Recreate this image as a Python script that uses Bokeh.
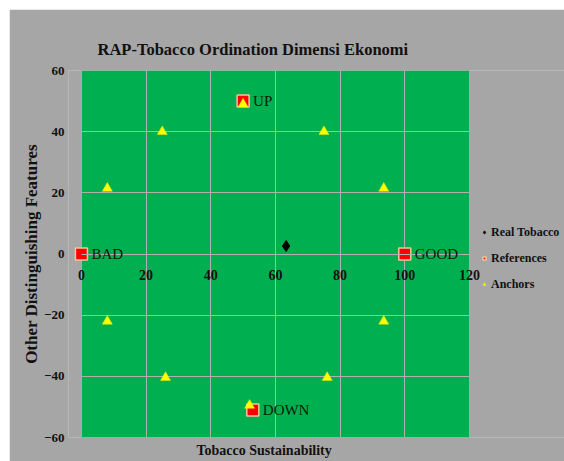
from bokeh.plotting import figure
from bokeh.models import (Range1d, Title, Legend, LegendItem, LabelSet, ColumnDataSource,
                          FixedTicker, BoxAnnotation, Grid)
from bokeh.core.properties import value
from bokeh.embed import file_html
from bokeh.resources import INLINE

# ---- data ----
title_text = "RAP-Tobacco Ordination Dimensi Ekonomi"
x_label = "Tobacco Sustainability"
y_label = "Other Distinguishing Features"
x_ticks = [0, 20, 40, 60, 80, 100, 120]
y_ticks = [-60, -40, -20, 0, 20, 40, 60]

real_x = [63.3]
real_y = [2.6]

ref_names = ["BAD", "GOOD", "UP", "DOWN"]
ref_x = [0, 100, 50, 53]
ref_y = [0, 0, 50, -51]

anchor_x = [8, 25, 50, 75, 93.5, 93.5, 76, 52, 26, 8]
anchor_y = [21.5, 40, 49, 40, 21.5, -22, -40.4, -49.5, -40.4, -22]

SERIF = "Liberation Serif"
GRAY = "#A6A6A6"
GREEN = "#00B050"
GRID = "#B0B0B0"

X0, X1 = x_ticks[0], x_ticks[-1]
Y0, Y1 = y_ticks[0], y_ticks[-1]

# the frame is wider than the green plot area so that the legend and the
# edge tick labels are not clipped
p = figure(width=555, height=452,
           x_range=Range1d(X0 - 4, X1 + 29.4), y_range=Range1d(Y0, Y1),
           output_backend="svg", toolbar_location=None,
           min_border_left=59, min_border_right=0,
           min_border_top=61, min_border_bottom=24,
           background_fill_color=GRAY, border_fill_color=GRAY,
           outline_line_color=None, title=title_text)
p.margin = (9, 0, 0, 9)
p.grid.visible = False

# green plot area, grid, masks
p.add_layout(BoxAnnotation(left=X0, right=X1, bottom=Y0, top=Y1, fill_color=GREEN,
                           fill_alpha=1, line_color=None, level="underlay"))
p.add_layout(Grid(dimension=0, ticker=FixedTicker(ticks=x_ticks), grid_line_color=GRID,
                  grid_line_width=1, level="underlay"))
p.add_layout(Grid(dimension=1, ticker=FixedTicker(ticks=y_ticks), grid_line_color=GRID,
                  grid_line_width=1, level="underlay"))
p.add_layout(BoxAnnotation(right=X0, fill_color=GRAY, fill_alpha=1, line_color=None,
                           level="underlay"))
p.add_layout(BoxAnnotation(left=X1, fill_color=GRAY, fill_alpha=1, line_color=None,
                           level="underlay"))

p.title.text_font = SERIF
p.title.text_font_style = "bold"
p.title.text_font_size = "16.5px"
p.title.text_color = "#111111"
p.title.align = "left"
p.title.offset = 29
p.title.standoff = 23

p.add_layout(Title(text=x_label, align="left", offset=128,
                   text_font=SERIF, text_font_style="bold",
                   text_font_size="14px", text_color="#111111",
                   standoff=6), "below")

# x axis crossing at y = 0
p.xaxis.fixed_location = 0
p.xaxis.bounds = (X0, X1)
p.xaxis.ticker = FixedTicker(ticks=x_ticks)
p.xaxis.axis_line_color = GRID
p.xaxis.major_tick_line_color = None
p.xaxis.minor_tick_line_color = None
p.xaxis.major_label_text_font = SERIF
p.xaxis.major_label_text_font_style = "bold"
p.xaxis.major_label_text_font_size = "14px"
p.xaxis.major_label_text_color = "#111111"
p.xaxis.major_label_standoff = 10

# y axis
p.yaxis.ticker = FixedTicker(ticks=y_ticks)
p.yaxis.axis_line_color = None
p.yaxis.major_tick_line_color = None
p.yaxis.minor_tick_line_color = None
p.yaxis.major_tick_out = 0
p.yaxis.major_tick_in = 0
p.yaxis.minor_tick_out = 0
p.yaxis.major_label_text_font = SERIF
p.yaxis.major_label_text_font_style = "bold"
p.yaxis.major_label_text_font_size = "13px"
p.yaxis.major_label_text_color = "#111111"
p.yaxis.major_label_standoff = 4
p.yaxis.axis_label = y_label
p.yaxis.axis_label_text_font = SERIF
p.yaxis.axis_label_text_font_style = "bold"
p.yaxis.axis_label_text_font_size = "17px"
p.yaxis.axis_label_text_color = "#111111"
p.yaxis.axis_label_standoff = 0

# glyphs
ref_src = ColumnDataSource(dict(x=ref_x, y=ref_y, name=ref_names))
r_ref = p.scatter("x", "y", source=ref_src, marker="square", size=12,
                  fill_color="#FF0000", line_color="#F2C49B", line_width=1.5)
r_anc = p.scatter(anchor_x, anchor_y, marker="triangle", size=10,
                  fill_color="#FFFF00", line_color="#E8E800", line_width=0.5)
r_real = p.scatter(real_x, real_y, marker="diamond", size=11,
                   fill_color="#000000", line_color="#000000")

labels = LabelSet(x="x", y="y", text="name", source=ref_src,
                  x_offset=10, y_offset=0, text_baseline="middle",
                  text_font=value(SERIF), text_font_size=value("15px"),
                  text_color=value("#0B1A0B"))
p.add_layout(labels)

legend = Legend(items=[LegendItem(label="Real Tobacco", renderers=[r_real]),
                       LegendItem(label="References", renderers=[r_ref]),
                       LegendItem(label="Anchors", renderers=[r_anc])],
                location=(412, 145), background_fill_alpha=0,
                border_line_color=None, label_text_font=SERIF,
                label_text_font_style="bold", label_text_font_size="12px",
                label_text_color="#111111",
                glyph_width=8, glyph_height=8, label_standoff=3,
                spacing=10, padding=0, margin=0, label_height=16)
p.add_layout(legend)

open("out.html", "w").write(file_html(p, INLINE))
